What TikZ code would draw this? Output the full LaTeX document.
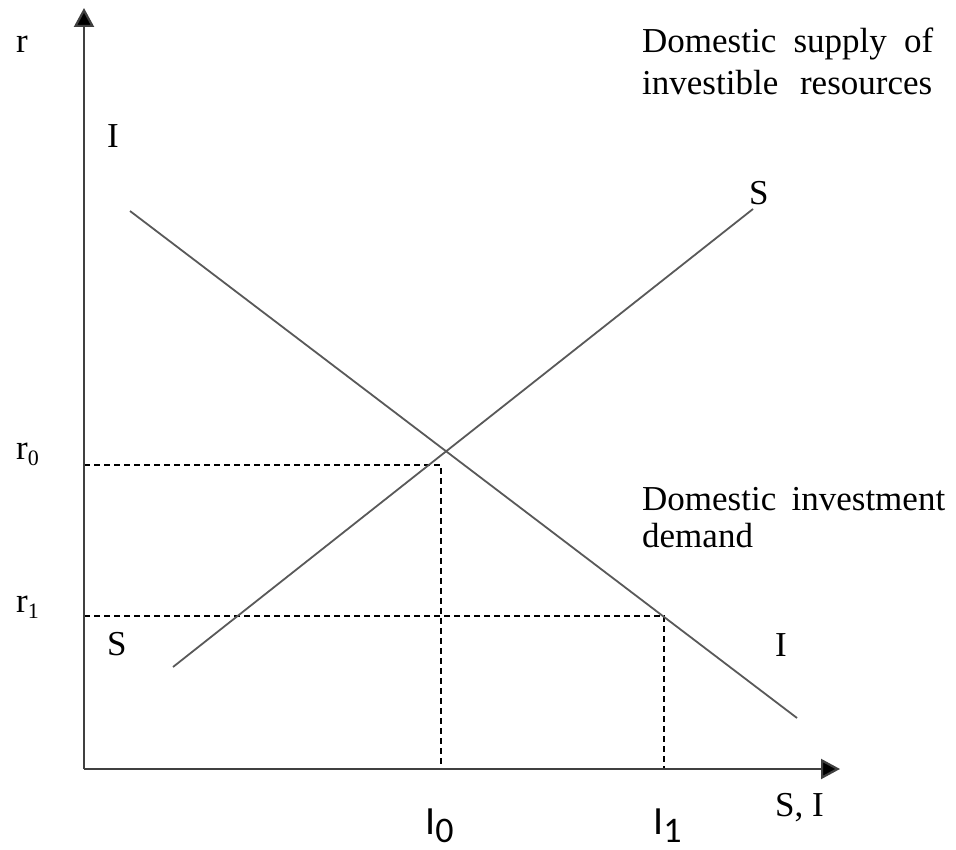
\documentclass[tikz,border=0pt]{standalone}
\usepackage{fontspec}
\setmainfont{Liberation Serif}
\newfontfamily\calib{Carlito}
\usetikzlibrary{arrows.meta}
\begin{document}
\begin{tikzpicture}[x=1pt,y=-1pt,
  axisline/.style={line width=2.2pt,draw=black!75,-{Triangle[length=19pt,width=20pt,fill=black]}},
  curve/.style={line width=1.8pt,draw=black!65},
  guide/.style={line width=1.6pt,dash pattern=on 6pt off 4pt},
  lbl/.style={anchor=base west,inner sep=0pt,font=\fontsize{35}{35}\selectfont},
  sublbl/.style={anchor=base west,inner sep=0pt,font=\calib\fontsize{40}{40}\selectfont}]
\useasboundingbox (0,0) rectangle (956,850);
% axes
\coordinate (O) at (84,769);
\coordinate (ytip) at (84,8);
\coordinate (xtip) at (840,769);
% guides
\coordinate (r0pt) at (84,465);
\coordinate (c0) at (441,465);
\coordinate (q0) at (441,769);
\coordinate (r1pt) at (84,616);
\coordinate (c1) at (664,616);
\coordinate (q1) at (664,769);
\draw[guide] (r0pt) -- (c0) -- (q0);
\draw[guide] (r1pt) -- (c1) -- (q1);
% curves
\coordinate (Itop) at (130,211);
\coordinate (Ibot) at (797,718);
\coordinate (Sbot) at (173,667);
\coordinate (Stop) at (753,209);
\draw[curve] (Itop) -- (Ibot);
\draw[curve] (Sbot) -- (Stop);
\draw[axisline] (O) -- (ytip);
\draw[axisline] (O) -- (xtip);
% labels
\node[lbl] (rlab) at (16,53) {r};
\node[lbl] (Itoplab) at (107,148) {I};
\node[lbl] (Stoplab) at (749,205) {S};
\node[lbl] (sup1) at (642,53) {\makebox[291pt][s]{Domestic supply of}};
\node[lbl] (sup2) at (642,95) {\makebox[290pt][s]{investible resources}};
\node[lbl] (r0lab) at (16,459) {r\raisebox{-6pt}{\fontsize{22}{22}\selectfont 0}};
\node[lbl] (r1lab) at (16,612) {r\raisebox{-6pt}{\fontsize{22}{22}\selectfont 1}};
\node[lbl] (dem1) at (642,510) {\makebox[303pt][s]{Domestic investment}};
\node[lbl] (dem2) at (642,547) {demand};
\node[lbl] (Sbotlab) at (107,655) {S};
\node[lbl] (Ibotlab) at (775,656) {I};
\node[lbl] (axlab) at (775,816) {S, I};
\node[sublbl] (I0lab) at (425,834) {I\raisebox{-8pt}{\fontsize{36}{36}\selectfont 0}};
\node[sublbl] (I1lab) at (653,834) {I\raisebox{-8pt}{\fontsize{36}{36}\selectfont 1}};
\end{tikzpicture}
\end{document}
